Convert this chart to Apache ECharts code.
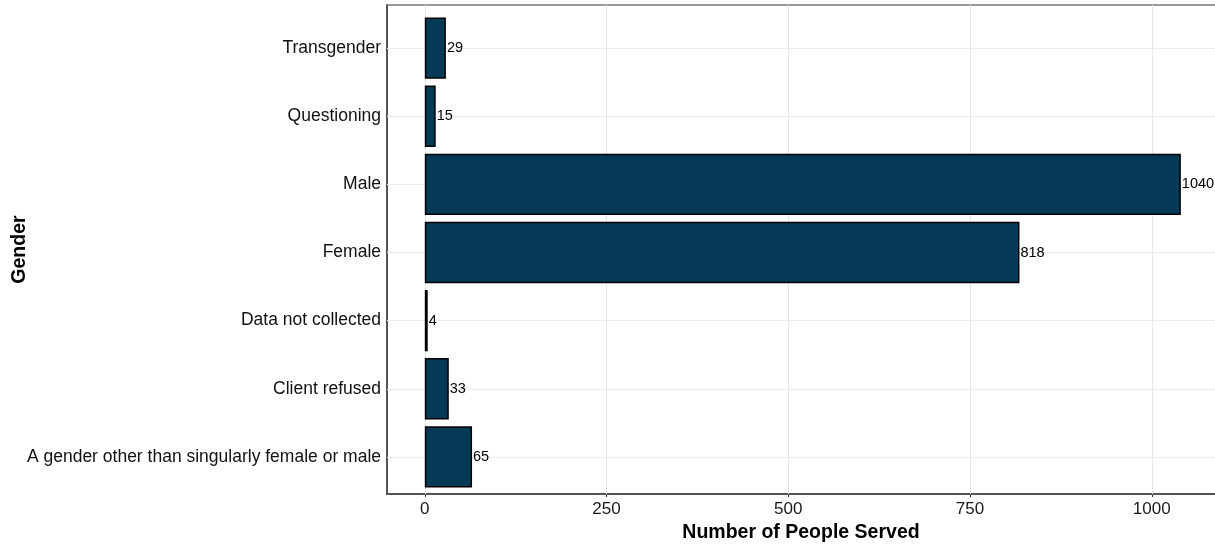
<!DOCTYPE html>
<html><head><meta charset="utf-8">
<script src="https://cdn.jsdelivr.net/npm/echarts@6/dist/echarts.min.js"></script>
<style>html,body{margin:0;padding:0;background:#fff}#c{width:1215px;height:548px}</style>
</head><body><div id="c"></div>
<script>
const categories = ["A gender other than singularly female or male", "Client refused", "Data not collected", "Female", "Male", "Questioning", "Transgender"];
const peopleServed = [65, 33, 4, 818, 1040, 15, 29];
const xTicks = [0, 250, 500, 750, 1000];
const xMin = -52, xMax = 1087;
const FONT = "'Liberation Sans', Arial, sans-serif";
const chart = echarts.init(document.getElementById('c'));
chart.setOption({
  animation: false,
  backgroundColor: '#fff',
  grid: [
    {left: 387, right: 0, top: 5, bottom: 51},
    {left: 387, right: 0, top: 14, bottom: 57}
  ],
  xAxis: [
    {gridIndex: 0, type: 'value', min: xMin, max: xMax, position: 'bottom',
     name: 'Number of People Served', nameLocation: 'middle', nameGap: 27,
     nameTextStyle: {fontFamily: FONT, fontSize: 19.5, fontWeight: 'bold', color: '#000'},
     axisLine: {show: true, onZero: false, lineStyle: {color: '#555', width: 2}},
     axisTick: {show: true, length: 3, customValues: xTicks, lineStyle: {color: '#333'}},
     axisLabel: {customValues: xTicks, formatter: v => String(v), fontFamily: FONT, fontSize: 17, color: '#1a1a1a', margin: 7},
     splitLine: {show: true, lineStyle: {color: '#f3f3f3', width: 1}}},
    {gridIndex: 0, type: 'value', min: xMin, max: xMax, position: 'top',
     axisLine: {show: true, onZero: false, lineStyle: {color: '#777', width: 1.5}},
     axisTick: {show: false}, axisLabel: {show: false},
     splitLine: {show: false}},
    {gridIndex: 1, type: 'value', min: xMin, max: xMax, show: false}
  ],
  yAxis: [
    {gridIndex: 0, type: 'value', min: 0, max: 1,
     axisLine: {show: true, onZero: false, lineStyle: {color: '#555', width: 2}},
     axisTick: {show: false}, axisLabel: {show: false}, splitLine: {show: false},
     name: 'Gender', nameLocation: 'middle', nameGap: 357, nameRotate: 90,
     nameTextStyle: {fontFamily: FONT, fontSize: 19.5, fontWeight: 'bold', color: '#000'}},
    {gridIndex: 1, type: 'category', data: categories,
     axisLine: {show: false},
     axisTick: {show: true, alignWithLabel: true, length: 3, lineStyle: {color: '#333'}},
     axisLabel: {fontFamily: FONT, fontSize: 17.5, color: '#111', margin: 6},
     splitLine: {show: false}}
  ],
  series: [
    {type: 'line', xAxisIndex: 0, yAxisIndex: 0, data: [], silent: true, z: 1,
     markLine: {silent: true, symbol: 'none', label: {show: false}, z: 1,
       lineStyle: {color: '#e6e6e6', width: 1, type: 'solid'},
       data: xTicks.map(v => ({xAxis: v}))}},
    {type: 'bar', xAxisIndex: 2, yAxisIndex: 1, data: peopleServed, z: 3,
     barCategoryGap: '10%',
     itemStyle: {color: '#043a56', borderColor: '#000', borderWidth: 1.5},
     label: {show: true, position: 'right', distance: 1, fontFamily: FONT, fontSize: 14.5, color: '#000'},
     markLine: {silent: true, symbol: 'none', label: {show: false}, z: 1,
       lineStyle: {color: '#ebebeb', width: 1, type: 'solid'},
       data: categories.map(c => ({yAxis: c}))}}
  ]
});
</script></body></html>
